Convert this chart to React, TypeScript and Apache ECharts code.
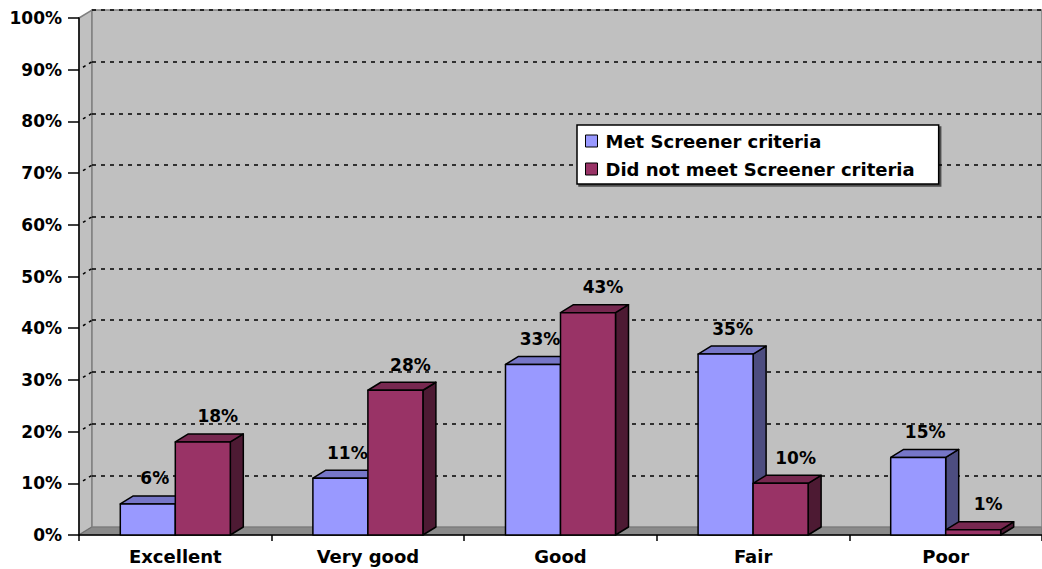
import React, { useEffect, useRef } from "react";
import * as echarts from "echarts";

const categories = ["Excellent", "Very good", "Good", "Fair", "Poor"];
const metValues = [6, 11, 33, 35, 15];
const notMetValues = [18, 28, 43, 10, 1];
const wallTicks = [10, 20, 30, 40, 50, 60, 70, 80, 90];
const seriesNames = ["Met Screener criteria", "Did not meet Screener criteria"];

const FONT = '"DejaVu Sans", "Liberation Sans", sans-serif';
const FL = 79; // front left
const FT = 18; // front top
const FB = 535; // front bottom (0%)
const W = 1042;
const DX = 13;
const DY = 8;
const BAR_RATIO = 0.2856;

const blue = { front: "#9999FF", top: "#7676C8", side: "#4D4D80" };
const maroon = { front: "#993366", top: "#772850", side: "#4D1A33" };

function makeRender(sign: number, col: any, labelShift: number) {
  return (params: any, api: any) => {
    const idx = api.value(0);
    const v = api.value(1);
    const top = api.coord([idx, v]);
    const base = api.coord([idx, 0]);
    const band = api.size([1, 0])[0];
    const w = band * BAR_RATIO;
    const x0 = sign < 0 ? top[0] - w : top[0];
    const yT = top[1];
    const yB = base[1];
    const stroke = { stroke: "#000", lineWidth: 1.5, lineJoin: "round" };
    return {
      type: "group",
      children: [
        {
          type: "polygon",
          shape: {
            points: [
              [x0 + w, yT],
              [x0 + w + DX, yT - DY],
              [x0 + w + DX, yB - DY],
              [x0 + w, yB],
            ],
          },
          style: { fill: col.side, ...stroke },
        },
        {
          type: "polygon",
          shape: {
            points: [
              [x0, yT],
              [x0 + DX, yT - DY],
              [x0 + w + DX, yT - DY],
              [x0 + w, yT],
            ],
          },
          style: { fill: col.top, ...stroke },
        },
        {
          type: "rect",
          shape: { x: x0, y: yT, width: w, height: yB - yT },
          style: { fill: col.front, ...stroke },
        },
        {
          type: "text",
          style: {
            text: v + "%",
            x: x0 + w / 2 + labelShift,
            y: yT - DY - 9,
            align: "center",
            verticalAlign: "bottom",
            textAlign: "center",
            textVerticalAlign: "bottom",
            fontSize: 17,
            fontWeight: "bold",
            fontFamily: FONT,
            fill: "#000",
          },
        },
      ],
    };
  };
}

export default function App() {
  const ref = useRef<HTMLDivElement>(null);
  useEffect(() => {
    if (!ref.current) return;
    const chart = echarts.init(ref.current, null, { renderer: "svg" });
    const option: any = {
      animation: false,
      backgroundColor: "#FFFFFF",
      textStyle: { fontFamily: FONT },
      grid: [
        {
          left: FL + DX,
          top: FT - DY,
          width: W - FL - DX,
          height: FB - FT,
          show: true,
          backgroundColor: "#C0C0C0",
          borderColor: "#808080",
          borderWidth: 1.5,
        },
        {
          left: FL,
          top: FT,
          width: W - FL,
          height: FB - FT,
        },
      ],
      xAxis: [
        {
          type: "category",
          gridIndex: 0,
          data: categories,
          show: false,
        },
        {
          type: "category",
          gridIndex: 1,
          data: categories,
          axisLine: { show: true, lineStyle: { color: "#000", width: 1.5 } },
          axisTick: { show: true, length: 6, lineStyle: { color: "#000", width: 1.5 } },
          axisLabel: {
            color: "#000",
            fontWeight: "bold",
            fontSize: 18,
            fontFamily: FONT,
            margin: 12,
          },
        },
      ],
      yAxis: [
        {
          type: "value",
          gridIndex: 0,
          min: 0,
          max: 100,
          interval: 10,
          axisLine: { show: false },
          axisTick: { show: false },
          axisLabel: { show: false },
          splitLine: {
            show: true,
            showMinLine: false,
            lineStyle: { color: "#000", width: 1.5, type: [4, 5] },
          },
        },
        {
          type: "value",
          gridIndex: 1,
          min: 0,
          max: 100,
          interval: 10,
          axisLine: { show: true, lineStyle: { color: "#000", width: 1.5 } },
          axisTick: { show: true, length: 11, lineStyle: { color: "#000", width: 1.5 } },
          axisLabel: {
            formatter: "{value}%",
            color: "#000",
            fontWeight: "bold",
            fontSize: 17,
            fontFamily: FONT,
            margin: 17,
          },
          splitLine: { show: false },
        },
      ],
      legend: {
        show: true,
        orient: "vertical",
        left: 577,
        top: 125,
        padding: [7, 24, 6, 8],
        itemGap: 10,
        itemWidth: 12,
        itemHeight: 12,
        icon: "rect",
        backgroundColor: "#FFFFFF",
        borderColor: "#000",
        borderWidth: 1.5,
        shadowColor: "rgba(0,0,0,0.6)",
        shadowOffsetX: 2,
        shadowOffsetY: 2,
        shadowBlur: 0,
        textStyle: {
          color: "#000",
          fontWeight: "bold",
          fontSize: 18,
          lineHeight: 17,
          fontFamily: FONT,
          padding: [0, 0, 0, 3],
        },
        itemStyle: { borderColor: "#000", borderWidth: 1 },
        data: seriesNames,
      },
      graphic: [
        {
          type: "polygon",
          z: -10,
          shape: {
            points: [
              [FL, FT],
              [FL + DX, FT - DY],
              [FL + DX, FB - DY],
              [FL, FB],
            ],
          },
          style: { fill: "#C0C0C0", stroke: "#808080", lineWidth: 1.5 },
        },
        {
          type: "polygon",
          z: -10,
          shape: {
            points: [
              [FL, FB],
              [FL + DX, FB - DY],
              [W, FB - DY],
              [W, FB],
            ],
          },
          style: { fill: "#8A8A8A", stroke: "#6E6E6E", lineWidth: 1 },
        },
      ],
      series: [
        {
          type: "custom",
          name: "wallgrid",
          xAxisIndex: 1,
          yAxisIndex: 1,
          silent: true,
          z: 1,
          data: wallTicks.map((t) => [0, t]),
          renderItem: (params: any, api: any) => {
            const p = api.coord([0, api.value(1)]);
            const x = params.coordSys.x;
            return {
              type: "line",
              shape: { x1: x + 4, y1: p[1] - DY * 4 / DX, x2: x + DX, y2: p[1] - DY },
              style: { stroke: "#000", lineWidth: 1.5, lineDash: [3, 4] },
            };
          },
        },
        {
          type: "custom",
          name: seriesNames[0],
          xAxisIndex: 1,
          yAxisIndex: 1,
          z: 5,
          itemStyle: { color: blue.front, borderColor: "#000", borderWidth: 1 },
          data: metValues.map((v, i) => [i, v]),
          renderItem: makeRender(-1, blue, 7),
        },
        {
          type: "custom",
          name: seriesNames[1],
          xAxisIndex: 1,
          yAxisIndex: 1,
          z: 5,
          itemStyle: { color: maroon.front, borderColor: "#000", borderWidth: 1 },
          data: notMetValues.map((v, i) => [i, v]),
          renderItem: makeRender(1, maroon, 15),
        },
      ],
    };
    chart.setOption(option);
    return () => chart.dispose();
  }, []);
  return (
    <div
      ref={ref}
      style={{ position: "absolute", left: 0, top: 0, width: 1042, height: 569 }}
    />
  );
}
